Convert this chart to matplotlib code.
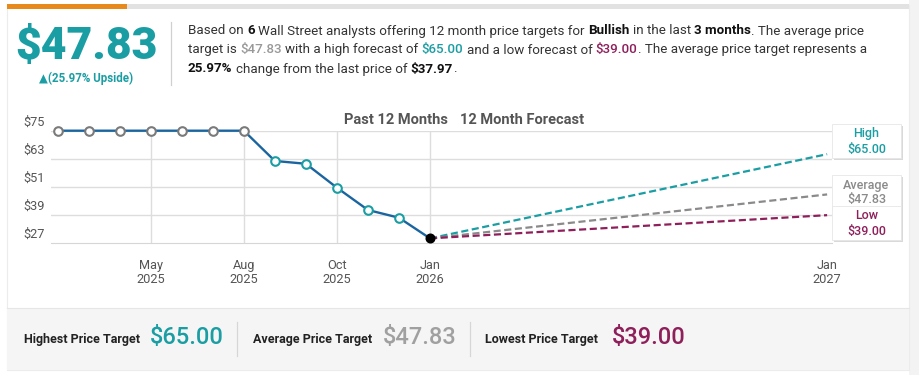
import matplotlib
matplotlib.use("Agg")
import matplotlib.pyplot as plt
from matplotlib.patches import Rectangle
from matplotlib.transforms import ScaledTranslation

plt.rcParams['font.family'] = ['Roboto', 'DejaVu Sans']

W, H = 919, 375

#====== data ======
past_x = [0, 1, 2, 3, 4, 5, 6, 7, 8, 9, 10, 11, 12]
past_y = [75, 75, 75, 75, 75, 75, 75, 62.1, 60.9, 50.7, 41.2, 37.9, 29.1]
n_gray = 7                       # first points drawn with gray rings
fc_x_end = 24.8                  # Jan 2027
fc_names = ['High', 'Average', 'Low']
fc_values = [65.00, 47.83, 39.00]
fc_colors = ['#1a9ea3', '#8a8a8a', '#8e1f5b']
yticks = [27, 39, 51, 63, 75]
xtick_pos = [3, 6, 9, 12, 24.8]
xtick_lab = ['May\n2025', 'Aug\n2025', 'Oct\n2025', 'Jan\n2026', 'Jan\n2027']
avg_target = 47.83
upside = 25.97
last_price = 37.97
n_analysts = 6

TEAL = '#1a9ea3'
GRAY = '#999999'
MAROON = '#8e1f5b'
DARK = '#333333'


def fx(x):
    return x / W


def fy(y):
    return 1 - y / H


fig = plt.figure(figsize=(W / 100, H / 100), dpi=100, facecolor='white')
rend = fig.canvas.get_renderer()

#====== card background ======
fig.patches.append(Rectangle((fx(909), 0), fx(10), 1, transform=fig.transFigure,
                             facecolor='#f3f3f3', edgecolor='none', zorder=0))
fig.patches.append(Rectangle((fx(7), fy(370)), fx(902), fy(5) - fy(370), transform=fig.transFigure,
                             facecolor='white', edgecolor='#ececec', lw=0.8, zorder=0))
fig.patches.append(Rectangle((fx(7), fy(370)), fx(902), fy(308) - fy(370), transform=fig.transFigure,
                             facecolor='#f5f5f5', edgecolor='none', zorder=1))
fig.patches.append(Rectangle((fx(7), fy(9)), fx(902), fy(4) - fy(9), transform=fig.transFigure,
                             facecolor='#e2e2e2', edgecolor='none', zorder=1))
fig.patches.append(Rectangle((fx(7), fy(9)), fx(120), fy(4) - fy(9), transform=fig.transFigure,
                             facecolor='#e8891c', edgecolor='none', zorder=2))

#====== header ======
fig.text(fx(86), fy(47), '$%.2f' % avg_target, color=TEAL, fontsize=32, fontweight='heavy',
         ha='center', va='center')
fig.text(fx(86), fy(78), '\u25b2(%.2f%% Upside)' % upside, color=TEAL, fontsize=8.3,
         fontweight='bold', ha='center', va='center')
fig.add_artist(plt.Line2D([fx(171), fx(171)], [fy(22), fy(85)], color='#d0d0d0', lw=0.9))


def runs(x, y, parts, size=9.65):
    sp = fig.text(0, 0, 'x x', fontsize=size)
    nsp = fig.text(0, 0, 'xx', fontsize=size)
    sw = sp.get_window_extent(rend).width - nsp.get_window_extent(rend).width
    sp.remove()
    nsp.remove()
    for s, color, weight in parts:
        lead = len(s) - len(s.lstrip(' '))
        trail = len(s) - len(s.rstrip(' '))
        x += lead * sw
        core = s.strip(' ')
        if core:
            t = fig.text(fx(x), fy(y), core, color=color, fontweight=weight, fontsize=size,
                         ha='left', va='center')
            x += t.get_window_extent(rend).width
        x += trail * sw
    return x


N, B, M = 'normal', 'bold', 'medium'
runs(188, 31, [('Based on ', DARK, N), ('%d' % n_analysts, '#111111', B),
               (' Wall Street analysts offering 12 month price targets for ', DARK, N),
               ('Bullish', '#111111', B), (' in the last ', DARK, N), ('3 months', '#111111', B),
               ('. The average price', DARK, N)])
runs(188, 50, [('target is ', DARK, N), ('$%.2f' % avg_target, GRAY, M),
               (' with a high forecast of ', DARK, N), ('$%.2f' % fc_values[0], TEAL, M),
               (' and a low forecast of ', DARK, N), ('$%.2f' % fc_values[2], MAROON, M),
               ('. The average price target represents a', DARK, N)])
runs(188, 69, [('%.2f%%' % upside, '#111111', B), (' change from the last price of ', DARK, N),
               ('$%.2f' % last_price, '#111111', B), ('.', DARK, N)])

#====== chart ======
x0, x1 = 51, 832
ytop, ybot = 130.7, 243.3
ax = fig.add_axes([fx(x0), fy(ybot), fx(x1 - x0), fy(ytop) - fy(ybot)])
ax.set_zorder(3)
ax.set_facecolor('none')
px_per = (430 - 57.7) / 12
ax.set_xlim(-(57.7 - x0) / px_per, 12 + (x1 - 430) / px_per)
ax.set_ylim(27, 75)

for v in yticks[1:]:
    ax.axhline(v, color='#dddddd', lw=1, zorder=0)
for v in xtick_pos[:4]:
    ax.axvline(v, color='#dddddd', lw=1, zorder=0)
for s in ['top', 'right', 'left']:
    ax.spines[s].set_visible(False)
ax.spines['bottom'].set_color('#d6d6d6')

ax.set_yticks(yticks)
ax.set_yticklabels(['$%d' % v for v in yticks])
ax.set_xticks(xtick_pos)
ax.set_xticklabels(xtick_lab)
ax.tick_params(axis='y', length=0, pad=4.5, labelsize=9.2, labelcolor='#555555')
ax.tick_params(axis='x', length=0, pad=11, labelsize=9.2, labelcolor='#555555')
for lab in ax.get_yticklabels():
    lab.set_transform(lab.get_transform() + ScaledTranslation(0, 0.10, fig.dpi_scale_trans))
for lab in ax.get_xticklabels():
    lab.set_linespacing(1.12)

# forecast lines
for val, col in zip(fc_values, fc_colors):
    ax.plot([past_x[-1], fc_x_end], [past_y[-1], val], ls=(0, (3.2, 1.6)), color=col,
            lw=1.6, zorder=2, clip_on=False)

# past line
ax.plot(past_x, past_y, color='#1a65a0', lw=1.7, zorder=3, clip_on=False)
ax.plot(past_x[:n_gray], past_y[:n_gray], ls='none', marker='o', ms=6.2, mfc='white',
        mec='#7a7a7a', mew=1.5, zorder=4, clip_on=False)
ax.plot(past_x[n_gray:-1], past_y[n_gray:-1], ls='none', marker='o', ms=6.2, mfc='white',
        mec=TEAL, mew=1.5, zorder=4, clip_on=False)
ax.plot(past_x[-1:], past_y[-1:], ls='none', marker='o', ms=6.2, mfc='black', mec='black',
        zorder=5, clip_on=False)

fig.text(fx(396), fy(120), 'Past 12 Months', color='#555555', fontsize=10.5, fontweight='bold',
         ha='center', va='center')
fig.text(fx(522), fy(120), '12 Month Forecast', color='#555555', fontsize=10.5, fontweight='bold',
         ha='center', va='center')

# value boxes on the right
box_tops = [124, 175, 206]
for name, val, col, top in zip(fc_names, fc_values, fc_colors, box_tops):
    bx, bw, bh = 832, 69, 34
    fig.patches.append(Rectangle((fx(bx + 1.5), fy(top + bh + 2)), fx(bw), fy(top) - fy(top + bh),
                                 transform=fig.transFigure, facecolor='#d9d9d9',
                                 edgecolor='none', zorder=6))
    fig.patches.append(Rectangle((fx(bx), fy(top + bh)), fx(bw), fy(top) - fy(top + bh),
                                 transform=fig.transFigure, facecolor='white',
                                 edgecolor='#e6e6e6', lw=0.6, zorder=7))
    fig.text(fx(bx + bw / 2), fy(top + 10), name, color=col, fontsize=9, fontweight='medium',
             ha='center', va='center', zorder=8)
    fig.text(fx(bx + bw / 2), fy(top + 25), '$%.2f' % val, color=col, fontsize=9,
             fontweight='medium', ha='center', va='center', zorder=8)

#====== footer ======
fig.add_artist(plt.Line2D([fx(7), fx(909)], [fy(308), fy(308)], color='#e6e6e6', lw=0.8))
foot = [('Highest Price Target', '$%.2f' % fc_values[0], TEAL, 24, 150),
        ('Average Price Target', '$%.2f' % avg_target, '#a0a0a0', 253, 383),
        ('Lowest Price Target', '$%.2f' % fc_values[2], MAROON, 485, 612)]
for lab, val, col, lx, vx in foot:
    fig.text(fx(lx), fy(340), lab, color='#222222', fontsize=9, fontweight='bold',
             ha='left', va='center')
    fig.text(fx(vx), fy(338), val, color=col, fontsize=17, fontweight='medium',
             ha='left', va='center')
for sx in [237, 470]:
    fig.add_artist(plt.Line2D([fx(sx), fx(sx)], [fy(322), fy(356)], color='#d6d6d6', lw=0.9))

fig.savefig('out.png', dpi=100, facecolor=fig.get_facecolor())
